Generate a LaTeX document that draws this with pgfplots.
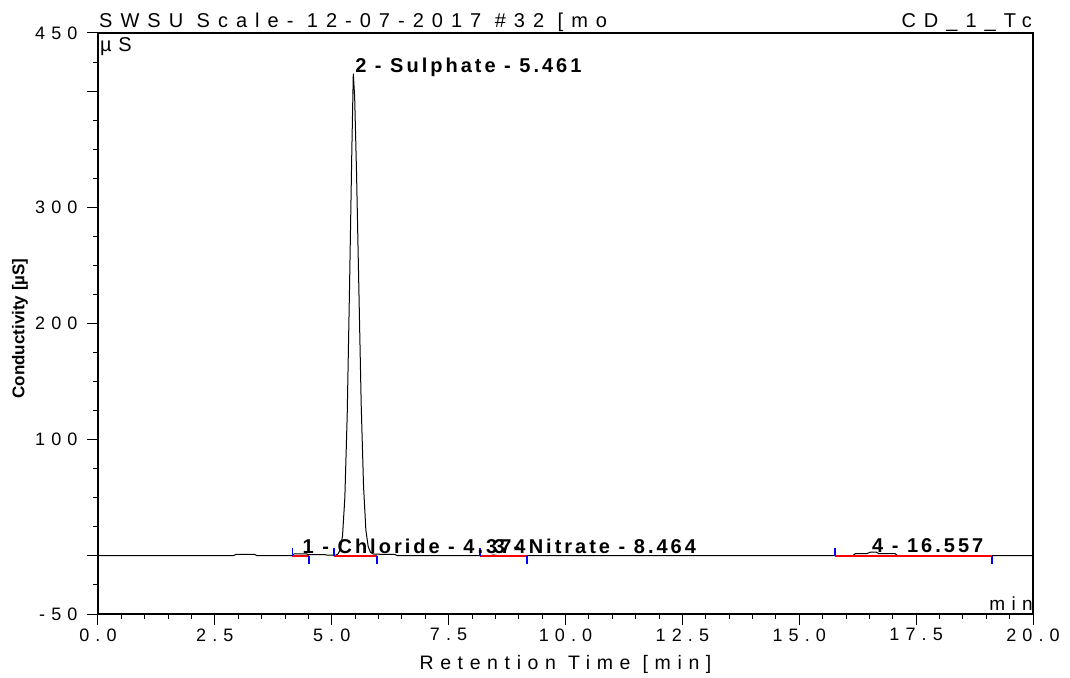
\documentclass[border=0pt]{standalone}
\usepackage{fontspec}
\setmainfont{Liberation Sans}[LetterSpace=34]
\newfontfamily\titlefont{Liberation Sans}[LetterSpace=40]
\newfontfamily\lblfont{Liberation Sans}[LetterSpace=15]
\newfontfamily\plainfont{Liberation Sans}
\usepackage{pgfplots}
\pgfplotsset{compat=1.18}
\definecolor{intred}{RGB}{255,0,0}
\definecolor{intblue}{RGB}{0,0,255}
\begin{document}
\begin{tikzpicture}
\begin{axis}[
  scale only axis, width=935bp, height=581bp,
  xmin=0, xmax=20, ymin=-50, ymax=450,
  axis line style={line width=1.2bp},
  xtick={0,2.5,...,20},
  xticklabels={0.0,2.5,5.0,7.5,10.0,12.5,15.0,17.5,20.0},
  minor x tick num=4,
  ytick={-50,0,100,200,300,400,450},
  yticklabels={-50,,100,200,300,,450},
  minor ytick={-25,25,50,75,125,150,175,225,250,275,325,350,375,425},
  xtick pos=bottom, ytick pos=left, tick align=outside,
  major tick length=11bp, minor tick length=5bp,
  tick style={black, line width=1bp},
  tick label style={font=\fontsize{18bp}{20bp}\selectfont},
  yticklabel style={xshift=-6bp},
]
\addplot[black, line width=1bp] coordinates {
(0,0.3)(2.9,0.3)(2.95,1.3)(3.35,1.3)(3.4,0.3)(4.15,0.3)(4.2,1.8)(4.45,1.8)(4.5,1.2)(4.85,1.2)(4.9,0.6)(5.08,0.6)
(5.13,1.5)(5.18,5)(5.23,17)(5.28,50)(5.33,120)(5.38,230)(5.43,350)(5.461,415)(5.49,395)(5.53,330)(5.58,230)
(5.63,130)(5.68,60)(5.73,22)(5.78,8)(5.83,3)(5.9,1.5)(6.35,1.2)(6.4,0.3)(8.4,0.3)(8.46,0.8)(8.55,0.3)
(16.15,0.3)(16.2,2)(16.45,2)(16.52,3.2)(16.65,3.2)(16.7,2)(17.05,2)(17.1,0.3)(20,0.3)};
% integration baselines
\addplot[intred, line width=1.3bp] coordinates {(4.16,0)(4.51,0)};
\addplot[intred, line width=1.3bp] coordinates {(5.05,0)(5.97,0)};
\addplot[intred, line width=1.3bp] coordinates {(8.17,0)(9.18,0)};
\addplot[intred, line width=1.3bp] coordinates {(15.76,0)(19.12,0)};
% peak start / end markers
\addplot[intblue, line width=1.5bp] coordinates {(4.16,0)(4.16,7)};
\addplot[intblue, line width=1.5bp] coordinates {(4.51,0)(4.51,-7)};
\addplot[intblue, line width=1.5bp] coordinates {(5.05,0)(5.05,7)};
\addplot[intblue, line width=1.5bp] coordinates {(5.97,0)(5.97,-7)};
\addplot[intblue, line width=1.5bp] coordinates {(8.17,0)(8.17,7)};
\addplot[intblue, line width=1.5bp] coordinates {(9.18,0)(9.18,-7)};
\addplot[intblue, line width=1.5bp] coordinates {(15.76,0)(15.76,7)};
\addplot[intblue, line width=1.5bp] coordinates {(19.12,0)(19.12,-7)};
% peak labels
\node[anchor=base west, inner sep=0, font=\lblfont\bfseries\fontsize{20bp}{22bp}\selectfont] at (axis cs:5.50,416) {2 - Sulphate - 5.461};
\node[anchor=base west, inner sep=0, font=\lblfont\bfseries\fontsize{20bp}{22bp}\selectfont] at (axis cs:4.374,2) {1 - Chloride - 4.374};
\node[anchor=base west, inner sep=0, font=\lblfont\bfseries\fontsize{20bp}{22bp}\selectfont] at (axis cs:8.464,2) {3 - Nitrate - 8.464};
\node[anchor=base west, inner sep=0, font=\lblfont\bfseries\fontsize{20bp}{22bp}\selectfont] at (axis cs:16.557,3) {4 - 16.557};
\end{axis}
\node[anchor=base west, inner sep=0, font=\titlefont\fontsize{20bp}{22bp}\selectfont] at ([shift={(1bp,5bp)}]current axis.north west) {SWSU Scale- 12-07-2017 \#32 [mo};
\node[anchor=base east, inner sep=0, font=\titlefont\fontsize{20bp}{22bp}\selectfont] at ([shift={(-1bp,5bp)}]current axis.north east) {CD\_1\_Tc};
\node[anchor=north west, inner sep=0, font=\fontsize{20bp}{22bp}\selectfont] at ([shift={(2bp,-4bp)}]current axis.north west) {µS};
\node[anchor=base east, inner sep=0, font=\fontsize{19bp}{21bp}\selectfont] at ([shift={(0bp,4bp)}]current axis.south east) {min};
\node[anchor=north, inner sep=0, font=\fontsize{19.5bp}{21bp}\selectfont] at ([shift={(0bp,-41bp)}]current axis.south) {Retention Time [min]};
\node[rotate=90, inner sep=0, font=\plainfont\bfseries\fontsize{17bp}{19bp}\selectfont] at ([shift={(-78bp,-5bp)}]current axis.west) {Conductivity [µS]};
\pgfresetboundingbox
\path ([shift={(-98bp,-64bp)}]current axis.south west) rectangle ++(1070bp,678bp);
\end{tikzpicture}
\end{document}
